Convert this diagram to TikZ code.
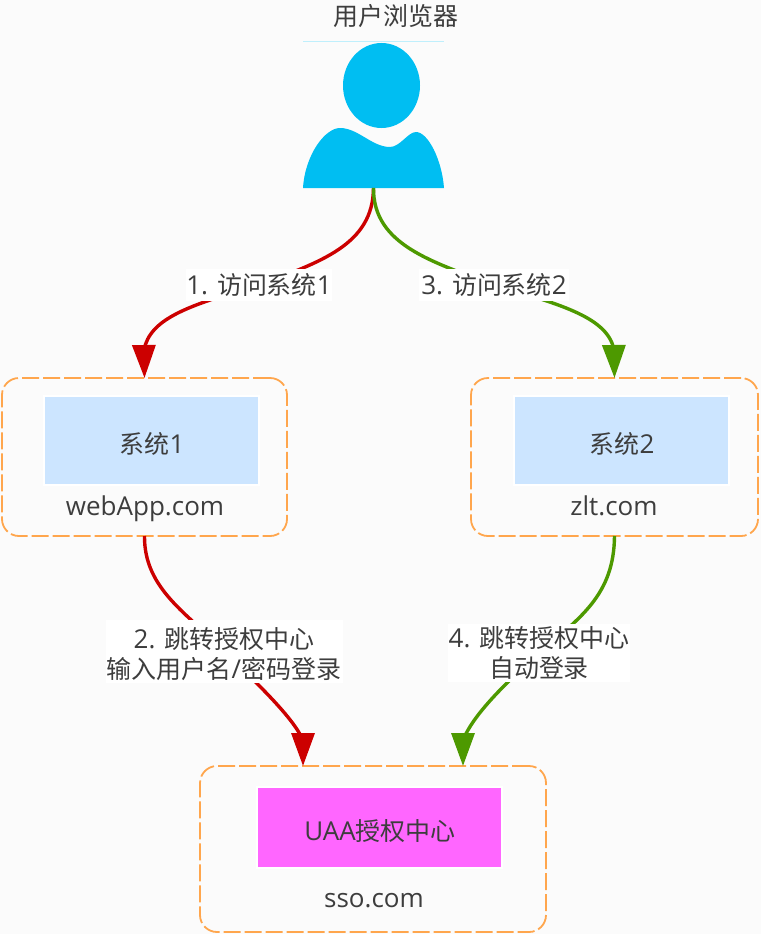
\documentclass[tikz,border=0pt]{standalone}
\usepackage{fontspec}
\setmainfont{Open Sans}
\newfontfamily\cjk{Noto Sans CJK SC}[Scale=0.96]
\newcommand{\cj}[1]{{\cjk #1}}
\usetikzlibrary{arrows.meta,calc}
\definecolor{bgc}{HTML}{FBFBFB}
\definecolor{txtc}{HTML}{3D3D3D}
\definecolor{redc}{HTML}{CC0000}
\definecolor{greenc}{HTML}{4D9900}
\definecolor{orangec}{HTML}{FFA64D}
\definecolor{bluec}{HTML}{CCE5FF}
\definecolor{magc}{HTML}{FF66FF}
\definecolor{userc}{HTML}{00BEF2}
\tikzset{
  x=1pt,y=-1pt,
  every node/.style={text=txtc,font=\fontsize{26}{30}\selectfont,inner sep=0pt,outer sep=0pt},
  groupbox/.style={draw=orangec,line width=1.8pt,rounded corners=17pt,dash pattern=on 17pt off 4pt,fill=bgc,anchor=north west},
  inner box/.style={draw=white,line width=2pt,anchor=north west},
  flowred/.style={draw=redc,line width=3.4pt,-{Triangle[length=33pt,width=23pt,fill=redc]}},
  flowgreen/.style={draw=greenc,line width=3.4pt,-{Triangle[length=33pt,width=23pt,fill=greenc]}},
  edgelabel/.style={fill=white,align=center},
  domain text/.style={text height=19pt,text depth=6pt},
}
\begin{document}
\begin{tikzpicture}
\useasboundingbox[fill=bgc] (0,0) rectangle (761,934);

% user icon
\node[minimum width=141pt,minimum height=146pt] (user) at (373.5,115) {};
\draw[draw=userc!25,line width=1pt] (user.north west) -- (user.north east);
\fill[userc] (381.5,85.5) ellipse [x radius=38.5,y radius=42.5];
\fill[userc] (user.south west) .. controls (305,155) and (325,128) .. (340,128)
  .. controls (358,128) and (372,147) .. (390,147)
  .. controls (400,147) and (408,132) .. (416,132)
  .. controls (428,132) and (442,160) .. (user.south east) -- cycle;
\node (browser) at (396,16) {\cj{用户浏览器}};

% group boxes
\node[groupbox,minimum width=285pt,minimum height=158pt] (g1) at (2,378) {};
\node[groupbox,minimum width=287pt,minimum height=158pt] (g2) at (471,378) {};
\node[groupbox,minimum width=346pt,minimum height=166pt] (g3) at (200,766) {};
\coordinate (g3a) at (303,766);
\coordinate (g3b) at (463,766);

% inner boxes
\node[inner box,fill=bluec,minimum width=215pt,minimum height=89pt] (s1) at (44,396) {};
\node[inner box,fill=bluec,minimum width=215pt,minimum height=89pt] (s2) at (514,396) {};
\node[inner box,fill=magc,minimum width=245pt,minimum height=81pt] (uaa) at (257,787) {};
\node at (152,444) {\cj{系统}1};
\node at (622,444) {\cj{系统}2};
\node at (380,831) {UAA\cj{授权中心}};
\node[domain text] (d1) at (145,509) {webApp.com};
\node[domain text] (d2) at (614,509) {zlt.com};
\node[domain text] (d3) at (374,901) {sso.com};

% connectors
\coordinate (m1) at (259,285);
\coordinate (m2) at (494,285);
\coordinate (m3) at (224,651);
\coordinate (m4) at (539,653);
\coordinate (e1) at (144,350);
\coordinate (e2) at (614,350);
\coordinate (e3) at (303,740);
\coordinate (e4) at (463,740);
\draw[flowred] (user.south) .. controls (373,245) and (320,262) .. (m1)
  .. controls (190,305) and (150,318) .. (e1) -- (g1.north);
\draw[flowgreen] (user.south) .. controls (373,245) and (433,262) .. (m2)
  .. controls (563,305) and (608,318) .. (e2) -- (g2.north);
\draw[flowred] (g1.south) .. controls (144,590) and (190,615) .. (m3)
  .. controls (262,688) and (293,718) .. (e3) -- (g3a);
\draw[flowgreen] (g2.south) .. controls (614,595) and (580,618) .. (m4)
  .. controls (500,688) and (473,716) .. (e4) -- (g3b);

% labels
\node[edgelabel,minimum width=146pt,minimum height=32pt] (l1) at (m1) {1. \cj{访问系统}1};
\node[edgelabel,minimum width=150pt,minimum height=32pt] (l3) at (m2) {3. \cj{访问系统}2};
\node[edgelabel,minimum width=237pt,minimum height=63pt] (l2) at (m3) {\rule{0pt}{27pt}2. \cj{跳转授权中心}\\\cj{输入用户名}/\cj{密码登录}};
\node[edgelabel,minimum width=182pt,minimum height=58pt] (l4) at (m4) {4. \cj{跳转授权中心}\\\cj{自动登录}};
\end{tikzpicture}
\end{document}
